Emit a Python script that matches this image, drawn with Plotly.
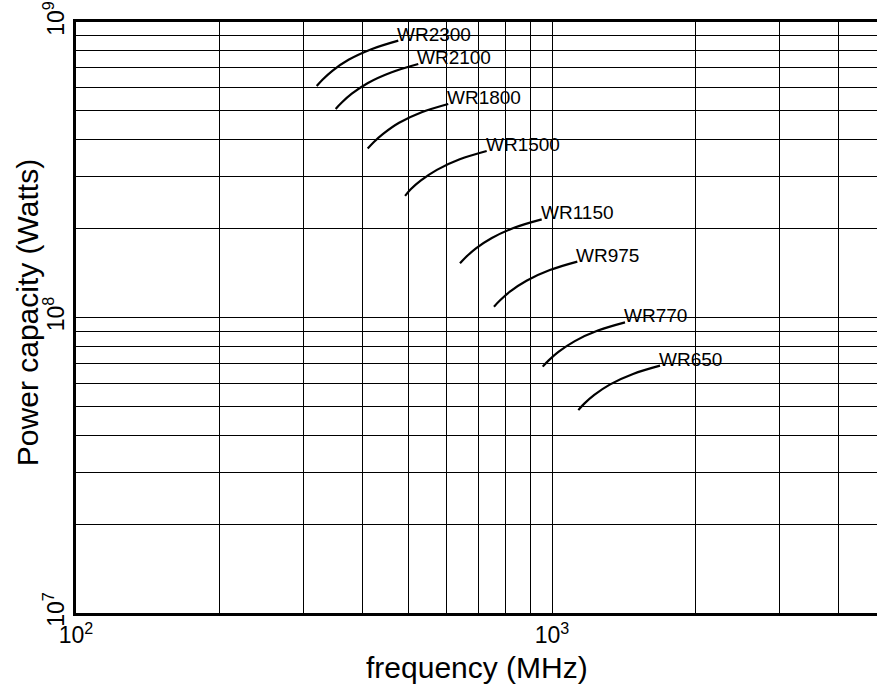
import math
import plotly.graph_objects as go

# ---- data ----
guide_names = ["WR2300", "WR2100", "WR1800", "WR1500", "WR1150", "WR975", "WR770", "WR650"]

freq_wr2300 = [320.4, 329.8, 346.1, 373.7, 417.4, 475.4]
power_wr2300 = [6.07e8, 6.39e8, 6.85e8, 7.45e8, 8.09e8, 8.65e8]

freq_wr2100 = [351.2, 361.7, 379.7, 410.5, 459.1, 523.7]
power_wr2100 = [5.08e8, 5.34e8, 5.72e8, 6.22e8, 6.75e8, 7.21e8]

freq_wr1800 = [410.0, 422.0, 442.4, 477.3, 532.3, 605.4]
power_wr1800 = [3.73e8, 3.92e8, 4.19e8, 4.56e8, 4.95e8, 5.28e8]

freq_wr1500 = [491.3, 505.5, 530.5, 573.0, 640.0, 729.1]
power_wr1500 = [2.58e8, 2.72e8, 2.91e8, 3.16e8, 3.43e8, 3.66e8]

freq_wr1150 = [640.8, 659.7, 692.2, 747.5, 835.0, 951.4]
power_wr1150 = [1.525e8, 1.602e8, 1.714e8, 1.859e8, 2.016e8, 2.149e8]

freq_wr975 = [755.2, 778.0, 817.2, 884.0, 989.7, 1130.3]
power_wr975 = [1.088e8, 1.144e8, 1.226e8, 1.332e8, 1.447e8, 1.545e8]

freq_wr770 = [956.1, 984.2, 1033.2, 1116.6, 1248.3, 1423.6]
power_wr770 = [6.82e7, 7.16e7, 7.66e7, 8.32e7, 9.03e7, 9.63e7]

freq_wr650 = [1135.9, 1169.0, 1227.0, 1325.0, 1480.1, 1686.5]
power_wr650 = [4.86e7, 5.11e7, 5.47e7, 5.94e7, 6.44e7, 6.87e7]

x_grid_vals = [100, 200, 300, 400, 500, 600, 700, 800, 900,
               1000, 2000, 3000, 4000, 5000]
x_tick_text = ["10<sup>2</sup>", "", "", "", "", "", "", "", "",
               "10<sup>3</sup>", "", "", "", ""]
y_grid_vals = [1e7, 2e7, 3e7, 4e7, 5e7, 6e7, 7e7, 8e7, 9e7,
               1e8, 2e8, 3e8, 4e8, 5e8, 6e8, 7e8, 8e8, 9e8, 1e9]
y_tick_text = ["10<sup>7</sup>", "", "", "", "", "", "", "", "",
               "10<sup>8</sup>", "", "", "", "", "", "", "", "",
               "10<sup>9</sup>"]

x_title = "frequency (MHz)"
y_title = "Power capacity (Watts)"

series = [
    (freq_wr2300, power_wr2300),
    (freq_wr2100, power_wr2100),
    (freq_wr1800, power_wr1800),
    (freq_wr1500, power_wr1500),
    (freq_wr1150, power_wr1150),
    (freq_wr975, power_wr975),
    (freq_wr770, power_wr770),
    (freq_wr650, power_wr650),
]

FONT = "Liberation Sans, Arial, Helvetica, sans-serif"

fig = go.Figure()
annotations = []
for name, (fx, py) in zip(guide_names, series):
    fig.add_trace(go.Scatter(
        x=fx, y=py, mode="lines", name=name,
        line=dict(color="black", width=2.2, shape="spline", smoothing=1.0),
        showlegend=False, hoverinfo="skip",
    ))
    annotations.append(dict(
        x=math.log10(fx[-1]), y=math.log10(py[-1]), xref="x", yref="y",
        text=name, showarrow=False, xanchor="left", yanchor="bottom",
        xshift=-3, yshift=-6,
        font=dict(family=FONT, size=19, color="black"),
    ))

annotations.append(dict(
    x=0.5, y=-0.093, xref="paper", yref="paper", text=x_title,
    showarrow=False, xanchor="center", yanchor="middle",
    font=dict(family=FONT, size=30, color="black"),
))
annotations.append(dict(
    x=-0.0612, y=0.509, xref="paper", yref="paper", text=y_title,
    showarrow=False, xanchor="center", yanchor="middle", textangle=-90,
    font=dict(family=FONT, size=30, color="black"),
))

fig.update_layout(
    width=877, height=690,
    margin=dict(l=76, r=0, t=22, b=77, pad=0),
    paper_bgcolor="white", plot_bgcolor="white",
    font=dict(family=FONT, color="black"),
    annotations=annotations,
    xaxis=dict(
        type="log", range=[2, 2 + 801 / 476],
        tickmode="array", tickvals=x_grid_vals, ticktext=x_tick_text,
        showgrid=True, gridcolor="black", gridwidth=1,
        showline=True, linecolor="black", linewidth=2.5, mirror=True,
        ticks="", tickfont=dict(family=FONT, size=23, color="black"),
        zeroline=False, fixedrange=True,
    ),
    yaxis=dict(
        type="log", range=[7, 9],
        tickmode="array", tickvals=y_grid_vals, ticktext=y_tick_text,
        showgrid=True, gridcolor="black", gridwidth=1,
        showline=True, linecolor="black", linewidth=2.5, mirror=False,
        ticks="", tickangle=-90, tickfont=dict(family=FONT, size=23, color="black"),
        zeroline=False, fixedrange=True,
    ),
)

fig.write_html(
    "out.html",
    config={"displayModeBar": False},
    post_script="document.body.style.margin='0';document.body.style.overflow='hidden';",
)
